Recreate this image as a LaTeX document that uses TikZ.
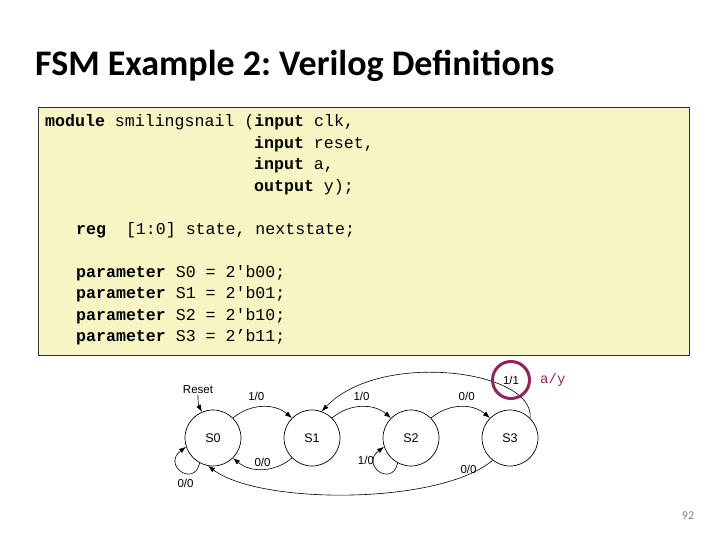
\documentclass[tikz,border=0pt]{standalone}
\usepackage{fontspec}
\setmainfont{Liberation Sans}
\setmonofont{Liberation Mono}
\newfontfamily\titlefont{Carlito}
\usetikzlibrary{arrows.meta, positioning}
\definecolor{CodeYellow}{RGB}{247,245,196}
\definecolor{MarkPurple}{RGB}{145,36,92}
\newcommand{\kw}[1]{\textbf{#1}}
\frenchspacing

\begin{document}
\begin{tikzpicture}[x=1pt, y=-1pt,
	code/.style={anchor=base west, inner sep=0pt, font=\fontsize{16.6}{20}\ttfamily},
	st/.style={circle, draw, line width=0.7pt, minimum size=56pt, inner sep=0pt, font=\fontsize{12.5}{14}\selectfont},
	lbl/.style={inner sep=1pt, font=\fontsize{11.5}{13}\selectfont},
	tr/.style={-{Latex[length=7pt, width=5pt]}, line width=0.6pt}]

	\useasboundingbox (0,0) rectangle (720,540);

	% title
	\node[anchor=base west, inner sep=0pt, font=\titlefont\bfseries\fontsize{36}{40}\selectfont]
		(title) at (35,76) {FSM Example 2: Verilog Definitions};

	% verilog code
	\node[draw=black!80, fill=CodeYellow, line width=0.8pt, anchor=north west,
		minimum width=651pt, minimum height=248pt, inner sep=0pt] (box) at (38,107) {};
	\node[code] (m1) at (45,127) {\kw{module} smilingsnail (\kw{input} clk,};
	\node[code] (m2) at (254,148.5) {\kw{input} reset,};
	\node[code] (m3) at (254,170) {\kw{input} a,};
	\node[code] (m4) at (254,191.5) {\kw{output} y);};
	\node[code] (rg) at (76,235) {\kw{reg}~ [1:0] state, nextstate;};
	\foreach \i/\b/\y in {0/00/277, 1/01/298.5, 2/10/320}
		\node[code] (p\i) at (76,\y) {\kw{parameter} S\i{} = 2'b\b;};
	\node[code] (p3) at (76,341.5) {\kw{parameter} S3 = 2’b11;};

	% state diagram
	\foreach \s/\x in {0/213, 1/312, 2/411, 3/510}
		\node[st] (S\s) at (\x,438) {S\s};
	\node[lbl] (rst) at (198,390) {Reset};
	\draw[tr] (rst.south) to[bend right=15] (S0.113);

	\draw[tr] (S0.45) to[bend left=40] node[lbl, above=5pt, pos=0.4] {1/0} (S1.135);
	\draw[tr] (S1.45) to[bend left=40] node[lbl, above=5pt] {1/0} (S2.135);
	\draw[tr] (S2.45) to[bend left=40] node[lbl, above=5pt, pos=0.6] {0/0} (S3.135);
	\draw[tr] (S1.-135) to[bend left=40] node[lbl, above=1pt] {0/0} (S0.-45);
	\draw[tr] (S3.45) .. controls (535,370) and (380,350) .. (S1.70);
	\draw[tr] (S3.-128) .. controls (440,505) and (260,505) .. node[lbl, pos=0.12, above] {0/0} (S0.-100);

	% self loops
	\draw[tr] (S2.-118) .. controls (392,488) and (360,465) .. node[lbl, pos=0.75, left] {1/0} (S2.-162);
	\draw[tr] (S0.-118) .. controls (194,488) and (162,465) .. node[lbl, pos=0.4, below=5pt] {0/0} (S0.-162);

	% highlighted output
	\node[lbl, circle, draw=MarkPurple, line width=3pt, minimum size=37pt, inner sep=0pt]
		(mark) at (511,380) {1/1};
	\node[right=9pt of mark, inner sep=0pt, text=MarkPurple, font=\fontsize{14}{16}\ttfamily] (ay) {a/y};

	\node[text=gray, font=\titlefont\fontsize{12}{14}\selectfont] (pg) at (688,516) {92};
\end{tikzpicture}
\end{document}
